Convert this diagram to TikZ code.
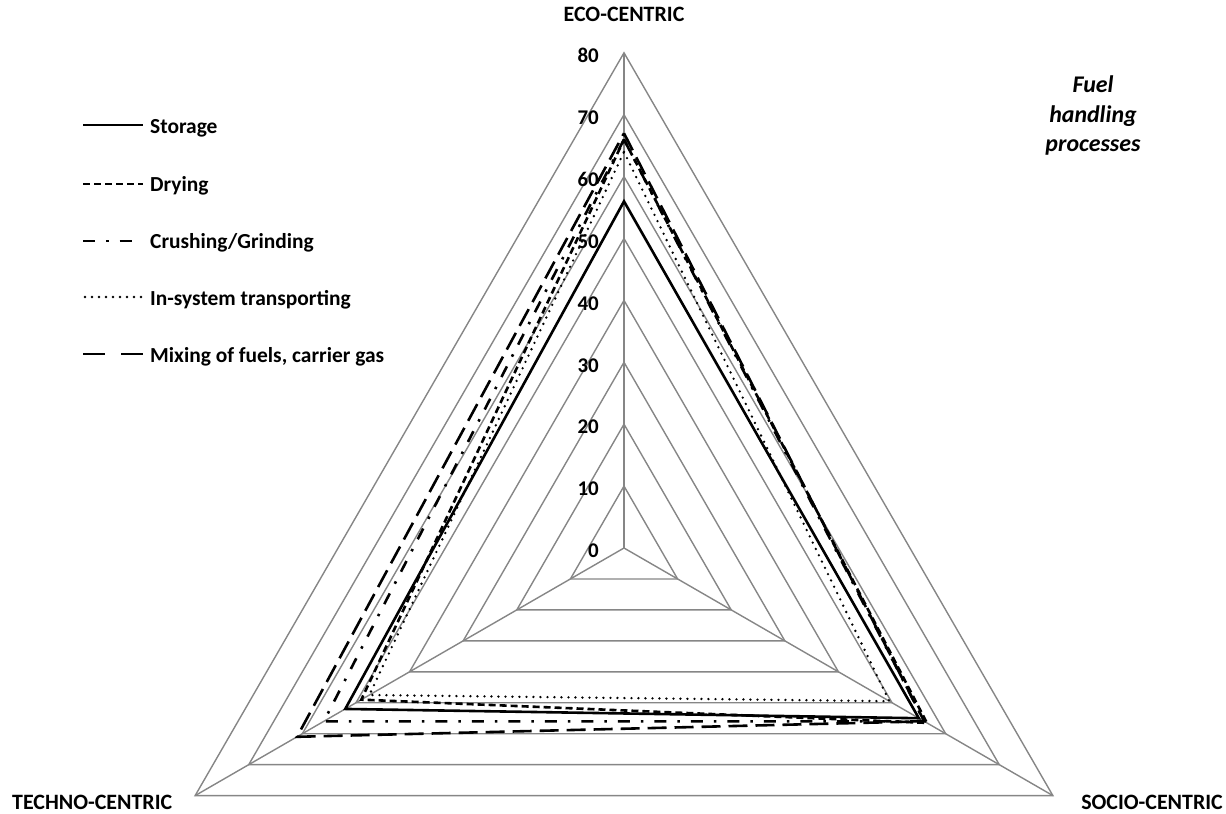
\documentclass[tikz,border=0pt]{standalone}
\usepackage{fontspec}
\setmainfont{Carlito}
\definecolor{gridgray}{RGB}{134,134,134}
\begin{document}
\begin{tikzpicture}[x=1bp,y=-1bp,
  grid/.style={draw=gridgray, line width=1.4bp},
  mainaxis/.style={draw=gridgray, line width=2.2bp},
  series/.style={draw=black, line width=2.6bp, line join=miter},
  storage/.style={series},
  drying/.style={series, dash pattern=on 7bp off 4bp},
  crushing/.style={series, dash pattern=on 12bp off 11bp on 2.5bp off 11bp},
  insystem/.style={series, line cap=round, dash pattern=on 0bp off 7bp},
  mixing/.style={series, dash pattern=on 19bp off 8bp},
  ticklabel/.style={anchor=east, inner sep=0pt, font=\bfseries\fontsize{21}{21}\selectfont},
  axistitle/.style={inner sep=0pt, font=\bfseries\fontsize{22}{22}\selectfont},
  legendtext/.style={anchor=base west, inner sep=0pt, font=\bfseries\fontsize{21.5}{21.5}\selectfont}]
\useasboundingbox (0,0) rectangle (1226,814);
\def\unit{6.19}

% centre and axis ends
\coordinate (C) at (624,548);
\coordinate (eco) at ([shift={(-90:495.2)}]C);
\coordinate (socio) at ([shift={(30:495.2)}]C);
\coordinate (techno) at ([shift={(150:495.2)}]C);

% grid rings
\begin{scope}[shift={(C)}]
  \foreach \v in {10,20,...,80}
    \draw[grid] (-90:{\v*\unit}) -- (30:{\v*\unit}) -- (150:{\v*\unit}) -- cycle;
\end{scope}

% spokes
\draw[grid] (C) -- (socio);
\draw[grid] (C) -- (techno);
\draw[mainaxis] (C) -- (eco);

% value labels on the vertical axis
\foreach \v in {0,10,...,80}
  \node[ticklabel] (t\v) at ([shift={(-25,{-\v*\unit+3})}]C) {\v};

% data series (eco, socio, techno)
\begin{scope}[shift={(C)}]
  \draw[storage]  (-90:{56*\unit}) -- (30:{55*\unit}) -- (150:{52*\unit}) -- cycle;
  \draw[drying]   (-90:{66*\unit}) -- (30:{56.5*\unit}) -- (150:{49*\unit}) -- cycle;
  \draw[crushing] (-90:{66*\unit}) -- (30:{56*\unit}) -- (150:{56*\unit}) -- cycle;
  \draw[insystem] (-90:{64*\unit}) -- (30:{49.5*\unit}) -- (150:{47.5*\unit}) -- cycle;
  \draw[mixing]   (-90:{67*\unit}) -- (30:{56*\unit}) -- (150:{61*\unit}) -- cycle;
\end{scope}

% axis titles
\node[axistitle] (ecotitle) at (624,14) {ECO-CENTRIC};
\node[axistitle, anchor=base west] (technotitle) at (12,809) {TECHNO-CENTRIC};
\node[axistitle, anchor=base east] (sociotitle) at (1223,809) {SOCIO-CENTRIC};

% chart title
\node[inner sep=0pt, align=center, anchor=north,
      font=\bfseries\itshape\fontsize{24}{29.5}\selectfont] (title) at (1093,76)
  {Fuel\\handling\\processes};

% legend
\coordinate (l1a) at (83,125);  \coordinate (l1b) at (143,125);
\coordinate (l2a) at (83,184);  \coordinate (l2b) at (143,184);
\coordinate (l3a) at (83,241);  \coordinate (l3b) at (136,241);
\coordinate (l4a) at (85,297);  \coordinate (l4b) at (143,297);
\coordinate (l5a) at (83,354);  \coordinate (l5b) at (143,354);
\draw[storage]  (l1a) -- (l1b);
\draw[drying]   (l2a) -- (l2b);
\draw[crushing] (l3a) -- (l3b);
\draw[insystem] (l4a) -- (l4b);
\draw[mixing, dash pattern=on 22bp off 16bp] (l5a) -- (l5b);
\node[legendtext] (n1) at (150,133) {Storage};
\node[legendtext] (n2) at (150,191) {Drying};
\node[legendtext] (n3) at (150,248) {Crushing/Grinding};
\node[legendtext] (n4) at (150,305) {In-system transporting};
\node[legendtext] (n5) at (150,362) {Mixing of fuels, carrier gas};
\end{tikzpicture}
\end{document}
